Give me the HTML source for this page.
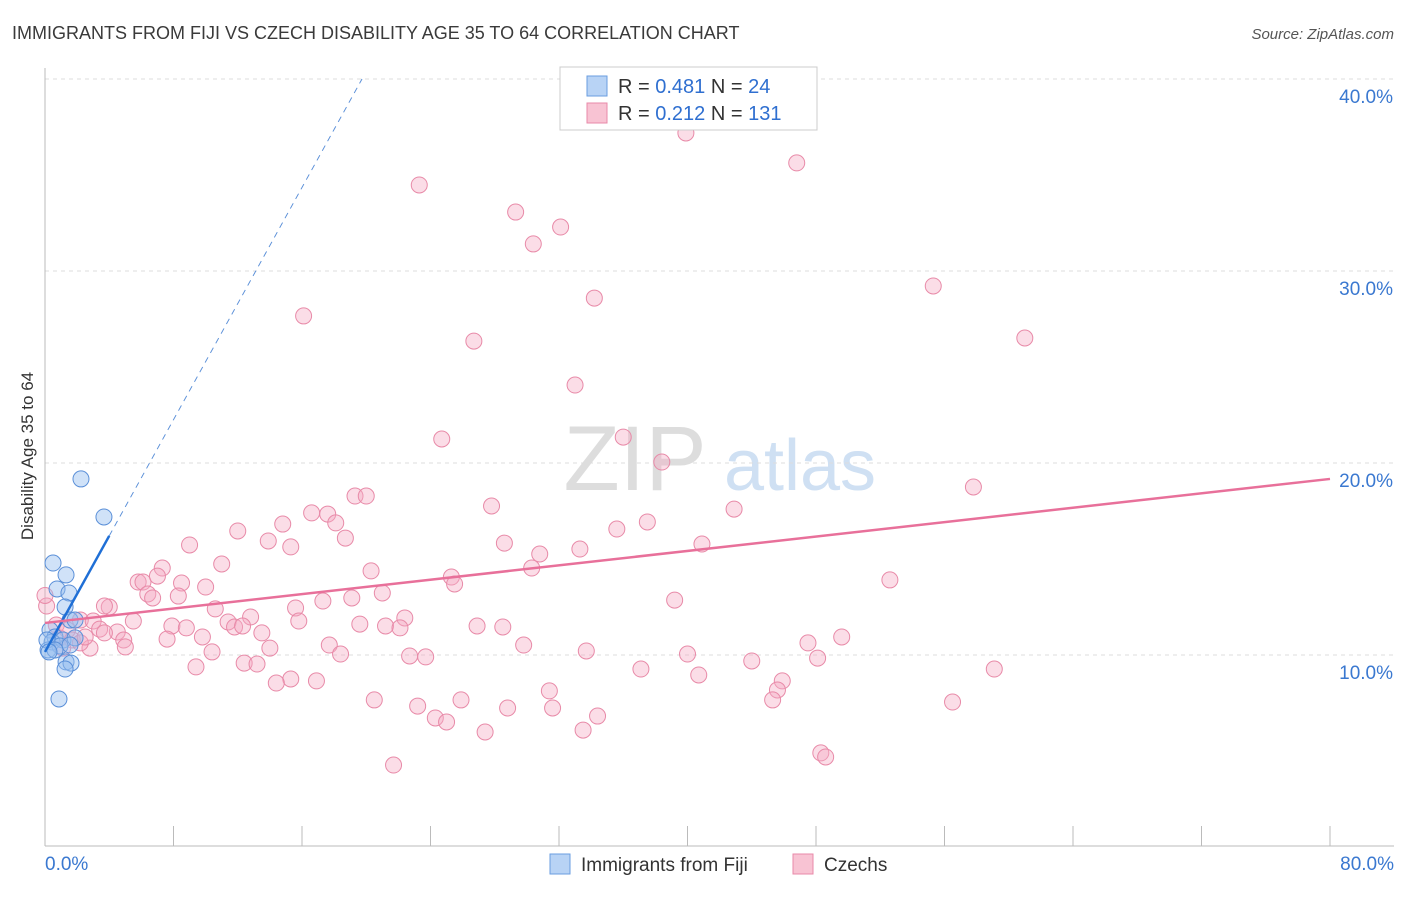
<!DOCTYPE html>
<html><head><meta charset="utf-8"><style>
body{margin:0;background:#fff;font-family:"Liberation Sans",sans-serif}
svg text{font-family:"Liberation Sans",sans-serif}
</style></head><body>
<svg id="chart" width="1406" height="892" xmlns="http://www.w3.org/2000/svg">
<text x="12" y="39" font-size="18" fill="#3a3a3a">IMMIGRANTS FROM FIJI VS CZECH DISABILITY AGE 35 TO 64 CORRELATION CHART</text>
<text x="1394" y="39" font-size="15" fill="#555" font-style="italic" text-anchor="end">Source: ZipAtlas.com</text>
<text transform="translate(33,456) rotate(-90)" font-size="17" fill="#333" text-anchor="middle">Disability Age 35 to 64</text>
<g><text x="635" y="490" font-size="92" fill="#ddd" font-family="Liberation Serif" text-anchor="middle">ZIP</text><text x="800" y="490" font-size="72" fill="#cfe0f3" text-anchor="middle">atlas</text></g>
<g id="grid"></g><g id="axes"></g><g id="pts"></g><g id="lines"></g>
<g>
<rect x="560" y="67" width="257" height="63" fill="#fff" stroke="#ccc"/>
<rect x="587" y="76" width="20" height="20" fill="#b8d3f5" stroke="#6a9ee0"/>
<rect x="587" y="103" width="20" height="20" fill="#f8c3d3" stroke="#e88aa8"/>
<text x="618" y="93" font-size="20" fill="#333">R = <tspan fill="#2f6fd0">0.481</tspan>   N = <tspan fill="#2f6fd0"> 24</tspan></text>
<text x="618" y="120" font-size="20" fill="#333">R = <tspan fill="#2f6fd0">0.212</tspan>   N = <tspan fill="#2f6fd0">131</tspan></text>
</g>
<g>
<rect x="550" y="854" width="20" height="20" fill="#b8d3f5" stroke="#6a9ee0"/>
<text x="581" y="871" font-size="19" fill="#333">Immigrants from Fiji</text>
<rect x="793" y="854" width="20" height="20" fill="#f8c3d3" stroke="#e88aa8"/>
<text x="824" y="871" font-size="19" fill="#333">Czechs</text>
</g>
</svg>
<script>
const fijiX=[2.24,3.67,0.50,1.31,0.75,1.49,1.25,1.56,1.87,0.31,0.62,0.44,1.12,1.87,0.93,1.56,0.19,1.31,1.62,1.25,0.87,0.12,0.62,0.25];
const fijiY=[19.17,17.19,14.79,14.17,13.44,13.23,12.5,11.82,11.82,11.30,10.94,10.68,10.78,10.89,10.47,10.52,10.26,9.64,9.58,9.27,7.71,10.78,10.26,10.16];
const czX=[42.0,39.9,46.8,23.3,29.3,32.1,30.4,34.2,55.3,16.1,61.0,26.7,33.0,24.7,36.0,38.4,57.8,19.3,20.0,27.8,42.9,12.0,14.8,16.6,17.6,18.1,18.7,13.9,15.3,9.0,28.6,35.6,37.5,40.9,33.3,30.8,30.3,11.0,7.3,5.8,6.1,7.0,8.5,10.0,20.3,25.3,25.5,52.6,6.4,6.7,8.3,21.0,17.3,19.1,39.2,4.0,3.7,10.6,12.8,15.6,22.4,11.4,11.8,12.3,15.8,2.2,3.0,5.5,7.9,8.8,19.6,21.2,22.1,26.9,28.5,4.5,3.4,3.7,13.5,9.8,7.6,4.9,5.0,2.8,0.9,17.7,29.8,47.5,49.6,10.4,14.0,18.4,22.7,23.7,33.7,40.0,48.1,44.0,12.4,13.2,9.4,37.1,59.1,40.7,15.3,14.4,16.9,45.9,45.6,31.4,20.5,25.9,45.3,56.5,23.2,31.6,28.8,34.4,24.3,25.0,27.4,33.5,48.3,48.6,21.7,0.1,0.0,0.7,1.4,1.7,2.2,2.5,1.1];
const czY=[38.07,37.19,35.63,34.48,33.07,32.29,31.41,28.59,29.22,27.66,26.51,26.35,24.06,21.25,21.35,20.05,18.75,18.28,18.28,17.76,17.6,16.46,16.82,17.40,17.34,16.88,16.09,15.94,15.63,15.73,15.83,16.56,16.93,15.78,15.52,15.26,14.53,14.74,14.53,13.80,13.80,14.11,13.75,13.54,14.38,14.06,13.70,13.91,13.18,12.97,13.07,13.23,12.81,12.97,12.86,12.5,12.55,12.40,11.98,12.45,11.93,11.72,11.46,11.51,11.77,11.82,11.77,11.77,11.51,11.41,11.61,11.51,11.41,11.51,11.46,11.20,11.35,11.15,11.15,10.94,10.83,10.78,10.42,10.36,10.89,10.52,10.52,10.63,10.94,10.16,10.36,10.05,9.95,9.90,10.21,10.05,9.84,9.69,9.58,9.53,9.38,9.27,9.27,8.96,8.75,8.54,8.65,8.65,8.18,8.13,7.66,7.66,7.66,7.55,7.34,7.24,7.24,6.82,6.72,6.51,5.99,6.09,4.90,4.69,4.27,12.55,13.1,11.56,11.30,10.78,10.63,10.94,10.36];
const yTicks=[10,20,30,40];
const xTicks=[0,8,16,24,32,40,48,56,64,72,80];
const fijiFit=[10.16,1.512];
const czFit=[11.67,0.09375];
const NS="http://www.w3.org/2000/svg";
const sx=v=>45+v/80*1285, sy=v=>847-v*19.2;
function mk(t,a,p){const e=document.createElementNS(NS,t);for(const k in a)e.setAttribute(k,a[k]);p.appendChild(e);return e;}
const grid=document.getElementById('grid'),axes=document.getElementById('axes'),pts=document.getElementById('pts'),lines=document.getElementById('lines');
yTicks.forEach(t=>{const l=mk('line',{x1:45,x2:1394,y1:sy(t),y2:sy(t),stroke:'#ddd','stroke-dasharray':'4,4'},grid);


const tx=mk('text',{x:1393,y:sy(t)+24,'font-size':19,fill:'#3a78d0','text-anchor':'end'},axes);tx.textContent=t.toFixed(1)+'%';

});
const ax=mk('line',{x1:45,x2:45,y1:68,y2:846,stroke:'#bbb'},axes);


const bx=mk('line',{x1:45,x2:1394,y1:846,y2:846,stroke:'#bbb'},axes);


xTicks.forEach(t=>{const l=mk('line',{x1:sx(t),x2:sx(t),y1:826,y2:846,stroke:'#bbb'},axes);

});
[[0,'start',45],[80,'end',1394]].forEach(([t,a,x])=>{const tx=mk('text',{x:x,y:870,'font-size':19,fill:'#3a78d0','text-anchor':a},axes);tx.textContent=t.toFixed(1)+'%';

});
czX.forEach((v,i)=>{const c=mk('circle',{cx:sx(v),cy:sy(czY[i]),r:8,fill:'rgba(244,170,195,0.4)',stroke:'#e88aa8','stroke-width':1},pts);

});
fijiX.forEach((v,i)=>{const c=mk('circle',{cx:sx(v),cy:sy(fijiY[i]),r:8,fill:'rgba(150,190,240,0.45)',stroke:'#5a8fd8','stroke-width':1},pts);

});
const xe=(40-fijiFit[0])/fijiFit[1];
const fd=mk('line',{x1:sx(4),y1:sy(fijiFit[0]+fijiFit[1]*4),x2:sx(xe),y2:sy(40),stroke:'#5a8fd8','stroke-dasharray':'6,5','stroke-width':1},lines);


const fs=mk('line',{x1:sx(0),y1:sy(fijiFit[0]),x2:sx(4),y2:sy(fijiFit[0]+fijiFit[1]*4),stroke:'#1f6fd6','stroke-width':2.5},lines);


const cl=mk('line',{x1:sx(0),y1:sy(czFit[0]),x2:sx(80),y2:sy(czFit[0]+czFit[1]*80),stroke:'#e8709a','stroke-width':2.5},lines);


</script>
</body></html>
